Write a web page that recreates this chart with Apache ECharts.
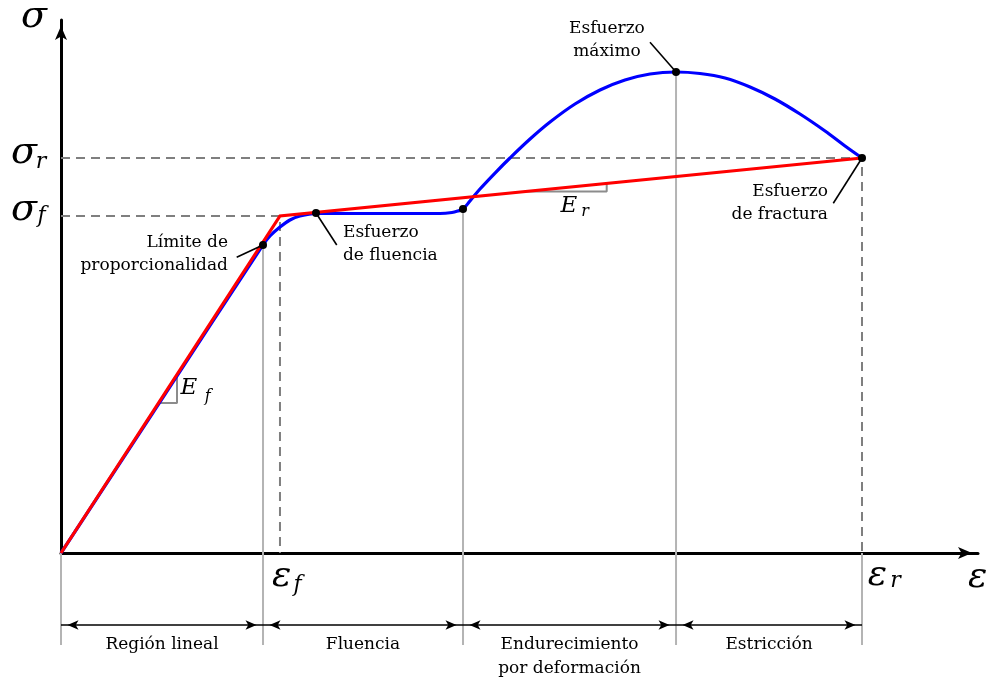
<!DOCTYPE html>
<html>
<head>
<meta charset="utf-8">
<script src="https://cdn.jsdelivr.net/npm/echarts@6/dist/echarts.min.js"></script>
<style>
  html, body { margin: 0; padding: 0; background: #ffffff; }
  #chart { width: 994px; height: 684px; }
</style>
</head>
<body>
<div id="chart"></div>
<script>
// Diagrama esfuerzo–deformación, ejes en unidades normalizadas (0–100)
const strainMax = 100;
const stressMax = 100;

// Curva real del material
const curveStrain = [0, 11.0, 22.03, 22.79, 23.88, 24.97, 26.06, 27.81, 31.52, 36.97, 41.33, 42.64, 43.29, 43.84,
  44.60, 45.69, 47.33, 48.96, 51.15, 53.33, 56.05, 58.78, 61.50, 64.23, 67.07, 69.68, 72.41, 75.14, 77.86,
  80.59, 83.32, 85.50, 87.35];
const curveStress = [0, 28.86, 57.79, 59.47, 61.16, 62.48, 63.23, 63.72, 63.70, 63.70, 63.70, 63.88, 64.17, 64.54,
  66.04, 68.29, 71.29, 74.11, 77.67, 80.86, 84.24, 86.87, 88.74, 89.87, 90.24, 89.96, 89.12, 87.43, 85.18,
  82.36, 79.17, 76.36, 74.11];

// Modelo bilineal
const bilinStrain = [0, 23.88, 87.35];
const bilinStress = [0, 63.23, 74.11];

// Puntos notables: límite de proporcionalidad, fluencia, inicio del endurecimiento, máximo, fractura
const keyStrain = [22.03, 27.81, 43.84, 67.07, 87.35];
const keyStress = [57.79, 63.80, 64.54, 90.24, 74.11];

// Niveles de referencia
const sigmaF = 63.23, epsF = 23.88;
const sigmaR = 74.11, epsR = 87.35;

// Regiones bajo el eje de deformación
const regionBounds = [0, 22.03, 43.84, 67.07, 87.35];
const regionNames = ['Región lineal', 'Fluencia', 'Endurecimiento\npor deformación', 'Estricción'];
const regionTextY = [-17.17, -17.17, -19.51, -17.17];
const regionArrowY = -13.51;
const regionLineBottom = -17.26;

// Anotaciones con línea guía
const noteText = ['Límite de\nproporcionalidad', 'Esfuerzo\nde fluencia', 'Esfuerzo\nmáximo', 'Esfuerzo\nde fractura'];
const noteX = [18.21, 30.75, 59.54, 83.64];
const noteY = [56.00, 58.02, 96.15, 65.57];
const noteAlign = ['right', 'left', 'center', 'right'];
const notePoint = [0, 1, 3, 4];
const leaderX = [19.16, 30.07, 64.23, 84.22];
const leaderY = [55.48, 57.79, 95.82, 65.61];

// Símbolos de los ejes y subíndices
const symText = ['σ', 'σ', 'r', 'σ', 'f', 'ε', 'f', 'ε', 'r', 'ε'];
const symX = [-2.94, -4.03, -2.18, -4.03, -2.13, 24.05, 25.79, 89.04, 91.00, 99.95];
const symY = [100.62, 75.10, 73.25, 64.41, 63.23, -4.50, -6.12, -4.32, -5.25, -4.69];
const symSize = [38, 38, 22, 38, 22, 36, 22, 36, 22, 36];

// Módulos E_f y E_r con su triángulo de pendiente
const modText = ['E', 'f', 'E', 'r'];
const modX = [13.96, 16.00, 55.40, 57.14];
const modY = [30.96, 29.36, 65.10, 64.07];
const modSize = [23, 16, 23, 16];
const triEfX = [10.63, 12.65, 12.65];
const triEfY = [28.14, 28.14, 33.50];
const triErX = [50.66, 59.51, 59.51];
const triErY = [67.82, 67.82, 69.34];

const zip = (xs, ys) => xs.map((x, i) => [x, ys[i]]);
const SERIF = 'DejaVu Serif';
const INK = '#000000';

function segment(points, color, width, type, z) {
  return {
    type: 'line', data: points, showSymbol: false, clip: false, silent: true, z: z,
    lineStyle: { color: color, width: width, type: type, cap: 'butt' }
  };
}

const series = [];

// Líneas verticales grises de las regiones
const grayV = '#b4b4b4';
series.push(segment([[0, 0], [0, regionLineBottom]], grayV, 2, 'solid', 1));
series.push(segment([[keyStrain[0], keyStress[0]], [keyStrain[0], regionLineBottom]], grayV, 2, 'solid', 1));
series.push(segment([[keyStrain[2], keyStress[2]], [keyStrain[2], regionLineBottom]], grayV, 2, 'solid', 1));
series.push(segment([[keyStrain[3], keyStress[3]], [keyStrain[3], regionLineBottom]], grayV, 2, 'solid', 1));
series.push(segment([[epsR, 0], [epsR, regionLineBottom]], grayV, 2, 'solid', 1));

// Líneas discontinuas de σ_f, ε_f, σ_r, ε_r
const dash = [9, 6];
series.push(segment([[0, sigmaF], [epsF, sigmaF], [epsF, 0]], '#7f7f7f', 2, dash, 2));
series.push(segment([[0, sigmaR], [epsR, sigmaR], [epsR, 0]], '#7f7f7f', 2, dash, 2));

// Triángulos de pendiente
series.push(segment(zip(triEfX, triEfY), '#8c8c8c', 2, 'solid', 2));
series.push(segment(zip(triErX, triErY), '#8c8c8c', 2, 'solid', 2));

// Curva real
series.push({
  type: 'line', name: 'curva', data: zip(curveStrain, curveStress), showSymbol: false, silent: true,
  smooth: 0.35, z: 3,
  lineStyle: { color: '#0000ff', width: 3.2 }
});

// Modelo bilineal
series.push({
  type: 'line', name: 'bilineal', data: zip(bilinStrain, bilinStress), showSymbol: false, silent: true, z: 4,
  lineStyle: { color: '#ff0000', width: 3.2, join: 'miter' }
});

// Líneas guía de las anotaciones
notePoint.forEach((k, i) => {
  series.push(segment([[leaderX[i], leaderY[i]], [keyStrain[k], keyStress[k]]], '#000000', 1.6, 'solid', 5));
});

// Puntos notables
series.push({
  type: 'scatter', data: zip(keyStrain, keyStress), symbol: 'circle', symbolSize: 8, silent: true, z: 6,
  itemStyle: { color: '#000000', opacity: 1 }
});

// Flechas dobles de cada región
for (let i = 0; i < regionNames.length; i++) {
  const h = 11;
  series.push({
    type: 'line', clip: false, silent: true, z: 5, showSymbol: true,
    symbolSize: [7, h],
    itemStyle: { color: '#000000' },
    lineStyle: { color: '#000000', width: 1.6 },
    data: [
      { value: [regionBounds[i], regionArrowY], symbol: 'arrow', symbolRotate: 90, symbolOffset: [h / 2 + 1, 0] },
      { value: [regionBounds[i + 1], regionArrowY], symbol: 'arrow', symbolRotate: -90, symbolOffset: [-h / 2 - 1, 0] }
    ]
  });
}

// Textos
function textSeries(items, z) {
  return {
    type: 'scatter', symbolSize: 0, clip: false, silent: true, z: z,
    itemStyle: { opacity: 1 },
    label: { show: true, formatter: '{b}', position: [0, 0], color: INK },
    data: items
  };
}

const textItems = [];
regionNames.forEach((name, i) => {
  textItems.push({
    name: name, value: [(regionBounds[i] + regionBounds[i + 1]) / 2, regionTextY[i]],
    label: { align: 'center', verticalAlign: 'middle', fontFamily: SERIF, fontSize: 17, lineHeight: 24, color: INK }
  });
});
noteText.forEach((t, i) => {
  textItems.push({
    name: t, value: [noteX[i], noteY[i]],
    label: { align: noteAlign[i], verticalAlign: 'middle', fontFamily: SERIF, fontSize: 17, lineHeight: 23, color: INK }
  });
});
symText.forEach((t, i) => {
  textItems.push({
    name: t, value: [symX[i], symY[i]],
    label: { align: 'center', verticalAlign: 'middle', fontFamily: SERIF, fontStyle: 'italic', fontSize: symSize[i], color: INK }
  });
});
modText.forEach((t, i) => {
  textItems.push({
    name: t, value: [modX[i], modY[i]],
    label: { align: 'center', verticalAlign: 'middle', fontFamily: SERIF, fontStyle: 'italic', fontSize: modSize[i], color: INK }
  });
});
series.push(textSeries(textItems, 7));

const chart = echarts.init(document.getElementById('chart'), null, { renderer: 'canvas' });
chart.setOption({
  animation: false,
  backgroundColor: '#ffffff',
  grid: { left: 61, right: 16, top: 20, bottom: 131, containLabel: false },
  xAxis: {
    type: 'value', min: 0, max: strainMax,
    axisLine: { show: true, onZero: false, lineStyle: { color: '#000000', width: 3 },
      symbol: ['none', 'arrow'], symbolSize: [9, 14], symbolOffset: [0, -6] },
    axisTick: { show: false }, axisLabel: { show: false }, splitLine: { show: false }
  },
  yAxis: {
    type: 'value', min: 0, max: stressMax,
    axisLine: { show: true, onZero: false, lineStyle: { color: '#000000', width: 3 },
      symbol: ['none', 'arrow'], symbolSize: [9, 14], symbolOffset: [0, -6] },
    axisTick: { show: false }, axisLabel: { show: false }, splitLine: { show: false }
  },
  series: series
});
</script>
</body>
</html>
